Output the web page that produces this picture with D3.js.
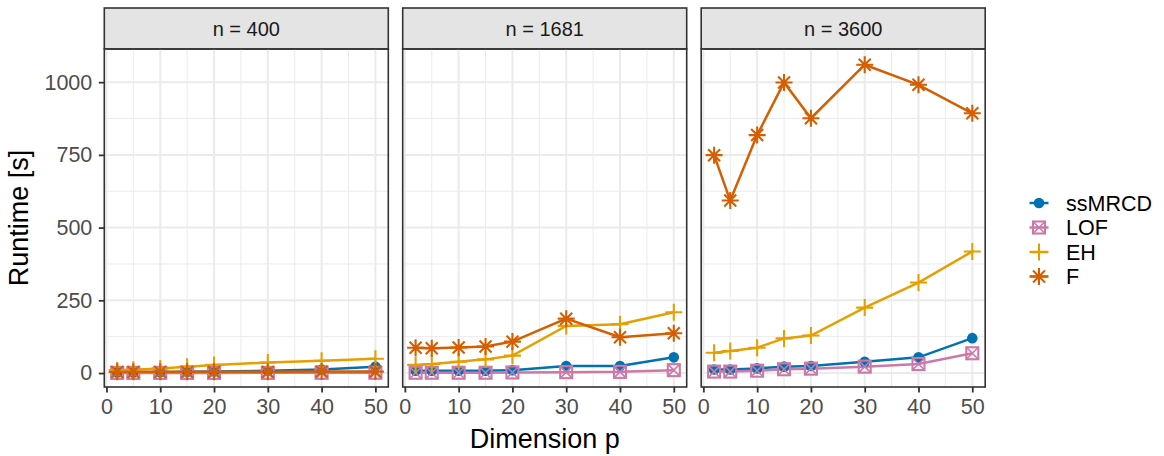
<!DOCTYPE html>
<html>
<head>
<meta charset="utf-8">
<script src="https://cdn.jsdelivr.net/npm/d3@7"></script>
<style>
  body { margin: 0; background: #fff; }
  text { font-family: "Liberation Sans", Arial, sans-serif; }
</style>
</head>
<body>
<div id="chart"></div>
<script>
const dims = [2, 5, 10, 15, 20, 30, 40, 50]
const panels = ['n = 400', 'n = 1681', 'n = 3600']
const methods = ['ssMRCD', 'LOF', 'EH', 'F']
const xTicks = [0, 10, 20, 30, 40, 50]
const yTicks = [0, 250, 500, 750, 1000]

// runtime in seconds, one array per method and panel
const ssMRCD_400 = [2, 2, 3, 4, 5, 8, 12, 22]
const LOF_400 = [0.5, 0.5, 0.5, 0.5, 0.5, 0.6, 0.8, 1]
const EH_400 = [10, 11, 16, 22, 28, 36, 42, 49]
const F_400 = [4, 4, 4, 4, 4, 4, 5, 5]

const ssMRCD_1681 = [8, 8, 8, 8, 10, 24, 24, 54]
const LOF_1681 = [1, 1, 1, 1, 2, 3, 4, 10]
const EH_1681 = [28, 31, 39, 47, 60, 162, 168, 209]
const F_1681 = [87, 85, 88, 91, 108, 187, 123, 137]

const ssMRCD_3600 = [12, 12, 16, 22, 24, 39, 54, 120]
const LOF_3600 = [5, 5, 8, 13, 15, 22, 31, 68]
const EH_3600 = [70, 76, 87, 119, 129, 225, 311, 418]
const F_3600 = [749, 593, 818, 999, 876, 1060, 991, 893]

const series = [
  [ssMRCD_400, LOF_400, EH_400, F_400],
  [ssMRCD_1681, LOF_1681, EH_1681, F_1681],
  [ssMRCD_3600, LOF_3600, EH_3600, F_3600]
]

const colors = {ssMRCD: '#0072B2', LOF: '#CC79A7', EH: '#E69F00', F: '#D55E00'}

const W = 1164, H = 456
const panel_left = [104.3, 402.7, 701.2]
const panel_w = 284
const strip_top = 8, strip_h = 41
const plot_top = strip_top + strip_h, plot_bottom = 387
const font = '"Liberation Sans", Arial, sans-serif'

const x = d3.scaleLinear().domain([-0.4, 52.4]).range([0, panel_w])
const y = d3.scaleLinear().domain([-48, 1114]).range([plot_bottom, plot_top])

const svg = d3.select('#chart').append('svg')
  .attr('width', W).attr('height', H)

// marker shapes drawn at origin
function drawMarker(g, m) {
  const c = colors[m]
  if (m === 'ssMRCD') {
    g.append('circle').attr('r', 5.3).attr('fill', c)
  } else if (m === 'LOF') {
    const s = 6
    g.append('rect').attr('x', -s).attr('y', -s).attr('width', 2 * s).attr('height', 2 * s)
      .attr('fill', 'none').attr('stroke', c).attr('stroke-width', 2.1)
    g.append('path').attr('d', `M${-s},${-s}L${s},${s}M${-s},${s}L${s},${-s}`)
      .attr('stroke', c).attr('stroke-width', 1.6)
  } else if (m === 'EH') {
    const a = 8.5
    g.append('path').attr('d', `M${-a},0L${a},0M0,${-a}L0,${a}`)
      .attr('stroke', c).attr('stroke-width', 2.1)
  } else {
    const a = 8.5, d = 6
    g.append('path').attr('d', `M${-a},0L${a},0M0,${-a}L0,${a}M${-d},${-d}L${d},${d}M${-d},${d}L${d},${-d}`)
      .attr('stroke', c).attr('stroke-width', 2.1)
  }
}

const line = d3.line().x((d, i) => x(dims[i])).y(d => y(d))

panels.forEach((label, p) => {
  const g = svg.append('g').attr('transform', 'translate(' + [panel_left[p], 0] + ')')

  // strip
  g.append('rect')
    .attr('x', 0).attr('y', strip_top).attr('width', panel_w).attr('height', strip_h)
    .attr('fill', '#e4e4e4').attr('stroke', '#333333').attr('stroke-width', 1.6)
  g.append('text')
    .attr('x', panel_w / 2).attr('y', strip_top + strip_h / 2 + 7)
    .attr('text-anchor', 'middle').attr('font-size', 20).attr('fill', '#1a1a1a')
    .text(label)

  // grid
  const minorX = [5, 15, 25, 35, 45], minorY = [125, 375, 625, 875]
  g.selectAll('.mx').data(minorX).enter().append('line')
    .attr('x1', d => x(d)).attr('x2', d => x(d)).attr('y1', plot_top).attr('y2', plot_bottom)
    .attr('stroke', '#ebebeb').attr('stroke-width', 1)
  g.selectAll('.my').data(minorY).enter().append('line')
    .attr('x1', 0).attr('x2', panel_w).attr('y1', d => y(d)).attr('y2', d => y(d))
    .attr('stroke', '#ebebeb').attr('stroke-width', 1)
  g.selectAll('.gx').data(xTicks).enter().append('line')
    .attr('x1', d => x(d)).attr('x2', d => x(d)).attr('y1', plot_top).attr('y2', plot_bottom)
    .attr('stroke', '#ebebeb').attr('stroke-width', 2)
  g.selectAll('.gy').data(yTicks).enter().append('line')
    .attr('x1', 0).attr('x2', panel_w).attr('y1', d => y(d)).attr('y2', d => y(d))
    .attr('stroke', '#ebebeb').attr('stroke-width', 2)

  // lines then points
  methods.forEach((m, k) => {
    g.append('path').datum(series[p][k])
      .attr('d', line).attr('fill', 'none')
      .attr('stroke', colors[m]).attr('stroke-width', 2.5)
  })
  methods.forEach((m, k) => {
    series[p][k].forEach((v, i) => {
      const mg = g.append('g').attr('transform', 'translate(' + [x(dims[i]), y(v)] + ')')
      drawMarker(mg, m)
    })
  })

  // border
  g.append('rect')
    .attr('x', 0).attr('y', plot_top).attr('width', panel_w).attr('height', plot_bottom - plot_top)
    .attr('fill', 'none').attr('stroke', '#333333').attr('stroke-width', 1.6)

  // x axis
  const xa = g.append('g').attr('transform', 'translate(0,' + plot_bottom + ')')
    .call(d3.axisBottom(x).tickValues(xTicks).tickFormat(d3.format('d')).tickSize(5.5).tickPadding(6))
  xa.select('.domain').remove()
  xa.selectAll('line').attr('stroke', '#333333').attr('stroke-width', 1.8)
  xa.selectAll('text').attr('font-size', 21.5).attr('fill', '#4d4d4d').attr('font-family', font)

  if (p === 0) {
    const ya = g.append('g')
      .call(d3.axisLeft(y).tickValues(yTicks).tickFormat(d3.format('d')).tickSize(5.5).tickPadding(6.5))
    ya.select('.domain').remove()
    ya.selectAll('line').attr('stroke', '#333333').attr('stroke-width', 1.8)
    ya.selectAll('text').attr('font-size', 21.5).attr('fill', '#4d4d4d').attr('font-family', font)
  }
})

// axis titles
svg.append('text')
  .attr('x', (panel_left[0] + panel_left[2] + panel_w) / 2).attr('y', 448)
  .attr('text-anchor', 'middle').attr('font-size', 27).attr('fill', '#000')
  .text('Dimension p')
svg.append('text')
  .attr('transform', 'translate(28,' + (plot_top + plot_bottom) / 2 + ') rotate(-90)')
  .attr('text-anchor', 'middle').attr('font-size', 27).attr('fill', '#000')
  .text('Runtime [s]')

// legend
const legend = svg.append('g').attr('transform', 'translate(1039,203)')
methods.forEach((m, k) => {
  const lg = legend.append('g').attr('transform', 'translate(0,' + k * 24.5 + ')')
  lg.append('line').attr('x1', -9.5).attr('x2', 9.5)
    .attr('stroke', colors[m]).attr('stroke-width', 2.5)
  drawMarker(lg, m)
  lg.append('text').attr('x', 27).attr('y', 7.5)
    .attr('font-size', 21.5).attr('fill', '#000').text(m)
})
</script>
</body>
</html>
